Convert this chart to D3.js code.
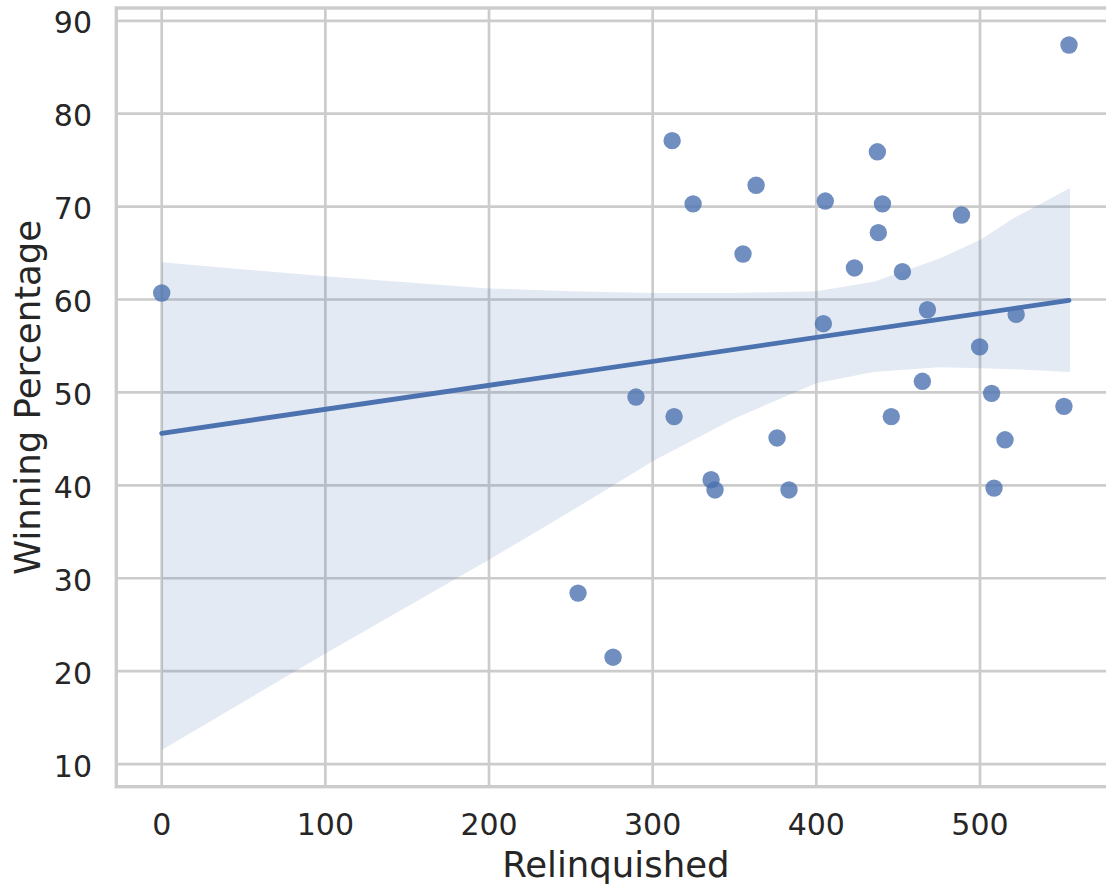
<!DOCTYPE html>
<html>
<head>
<meta charset="utf-8">
<script src="https://cdn.jsdelivr.net/npm/d3@7"></script>
<style>
  body { margin: 0; background: #fff; }
  text { font-family: "DejaVu Sans", sans-serif; fill: #262626; }
</style>
</head>
<body>
<div id="chart"></div>
<script>
// scatter points
var relinquished = [0, 254.4, 275.8, 289.8, 311.9, 313.1, 324.7, 335.7, 338.1, 355.2,
    363.2, 376, 383.3, 404.3, 405.5, 423.3, 437.3, 437.9, 440.4, 445.8,
    452.6, 464.8, 467.9, 488.7, 499.8, 507.1, 508.6, 515.3, 522.1, 551.3, 554.4];
var winPct = [60.7, 28.4, 21.5, 49.5, 77.1, 47.4, 70.3, 40.6, 39.5, 64.9,
    72.3, 45.1, 39.5, 57.4, 70.6, 63.4, 75.9, 67.2, 70.3, 47.4,
    63.0, 51.2, 58.9, 69.1, 54.9, 49.9, 39.7, 44.9, 58.4, 48.5, 87.4];

// bootstrap confidence band edges
var bandX = [0, 100, 200, 250, 300, 350, 400, 435, 475, 500, 520, 555];
var bandUpper = [64.0, 62.5, 61.2, 60.9, 60.7, 60.7, 60.9, 61.9, 64.4, 66.4, 68.7, 72.0];
var bandLower = [11.5, 21.9, 32.0, 37.2, 42.6, 47.2, 51.0, 52.2, 52.7, 52.6, 52.5, 52.2];

var xTicks = [0, 100, 200, 300, 400, 500];
var yTicks = [10, 20, 30, 40, 50, 60, 70, 80, 90];

var blue = "#4C72B0";
var gridColor = "#cccccc";

var W = 1106, H = 884;
var plotLeft = 116.3, plotRight = 1115.4, plotTop = 8, plotBottom = 786.7;

var svg = d3.select("#chart").append("svg")
    .attr("width", W)
    .attr("height", H);

var x = d3.scaleLinear().domain([-27.75, 582.75]).range([plotLeft, plotRight]);
var y = d3.scaleLinear().domain([7.56, 91.38]).range([plotBottom, plotTop]);

// grid
var grid = svg.append("g");
grid.selectAll(".gx").data(xTicks).enter().append("line")
    .attr("x1", d => x(d)).attr("x2", d => x(d))
    .attr("y1", plotTop).attr("y2", plotBottom)
    .style("stroke", gridColor).style("stroke-width", 2.7);
grid.selectAll(".gy").data(yTicks).enter().append("line")
    .attr("x1", plotLeft).attr("x2", plotRight)
    .attr("y1", d => y(d)).attr("y2", d => y(d))
    .style("stroke", gridColor).style("stroke-width", 2.7);

// confidence band
var band = bandX.map(function(d, i) {
    return { x: d, lo: bandLower[i], hi: bandUpper[i] };
});
var area = d3.area()
    .x(d => x(d.x))
    .y0(d => y(d.lo))
    .y1(d => y(d.hi));
svg.append("path")
    .datum(band)
    .attr("d", area)
    .style("fill", blue)
    .style("fill-opacity", 0.15);

// least squares fit
var mx = d3.mean(relinquished), my = d3.mean(winPct);
var sxy = d3.sum(relinquished, (v, i) => (v - mx) * (winPct[i] - my));
var sxx = d3.sum(relinquished, v => (v - mx) * (v - mx));
var slope = sxy / sxx;
var intercept = my - slope * mx;
var xExt = d3.extent(relinquished);

var line = d3.line()
    .x(d => x(d))
    .y(d => y(intercept + slope * d));
svg.append("path")
    .datum(xExt)
    .attr("d", line)
    .style("stroke", blue)
    .style("stroke-width", 4.8)
    .style("stroke-linecap", "round")
    .style("fill", "none");

// points
svg.selectAll(".pt").data(relinquished).enter().append("circle")
    .attr("cx", d => x(d))
    .attr("cy", (d, i) => y(winPct[i]))
    .attr("r", 8.7)
    .style("fill", blue)
    .style("fill-opacity", 0.8);

// frame
svg.append("rect")
    .attr("x", plotLeft).attr("y", plotTop)
    .attr("width", plotRight - plotLeft).attr("height", plotBottom - plotTop)
    .style("fill", "none")
    .style("stroke", gridColor)
    .style("stroke-width", 3.4);

// tick labels
svg.selectAll(".xt").data(xTicks).enter().append("text")
    .attr("x", d => x(d))
    .attr("y", 835)
    .attr("text-anchor", "middle")
    .style("font-size", "30px")
    .text(d => d);
svg.selectAll(".yt").data(yTicks).enter().append("text")
    .attr("x", 92)
    .attr("y", d => y(d) + 12.5)
    .attr("text-anchor", "end")
    .style("font-size", "30px")
    .text(d => d);

// axis titles
svg.append("text")
    .attr("x", (plotLeft + plotRight) / 2)
    .attr("y", 876.5)
    .attr("text-anchor", "middle")
    .style("font-size", "35.5px")
    .text("Relinquished");
svg.append("text")
    .attr("transform", "translate(40," + ((plotTop + plotBottom) / 2) + ") rotate(-90)")
    .attr("text-anchor", "middle")
    .style("font-size", "35.5px")
    .text("Winning Percentage");
</script>
</body>
</html>
